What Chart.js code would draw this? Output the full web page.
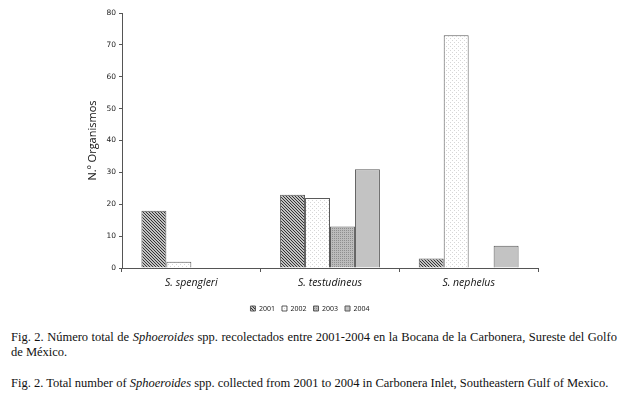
<!DOCTYPE html>
<html>
<head>
<meta charset="utf-8">
<script src="https://cdn.jsdelivr.net/npm/chart.js@4"></script>
<style>
  body { margin: 0; background: #fff; width: 627px; height: 398px; position: relative; overflow: hidden; }
  #chart { position: absolute; left: 0; top: 0; }
  .cap { position: absolute; left: 11px; width: 606px; font-family: "Liberation Serif", "Times New Roman", serif; font-size: 12.4px; line-height: 15px; color: #111; white-space: nowrap; }
  .just { text-align: justify; text-align-last: justify; }
</style>
</head>
<body>
<canvas id="chart" width="627" height="326"></canvas>
<div class="cap just" style="top:330px">Fig. 2. Número total de <i>Sphoeroides</i> spp. recolectados entre 2001-2004 en la Bocana de la Carbonera, Sureste del Golfo</div>
<div class="cap" style="top:345px">de México.</div>
<div class="cap" id="cap3" style="top:376px"><span id="cap3text">Fig. 2. Total number of <i>Sphoeroides</i> spp. collected from 2001 to 2004 in Carbonera Inlet, Southeastern Gulf of Mexico.</span></div>
<script>
// Species on the x axis
const species = ['S. spengleri', 'S. testudineus', 'S. nephelus'];
// Years (one series each)
const years = ['2001', '2002', '2003', '2004'];
// Number of organisms per year, in species order
const counts2001 = [18, 23, 3];
const counts2002 = [2, 22, 73];
const counts2003 = [0, 13, 0];
const counts2004 = [0, 31, 7];
const yTicks = [0, 10, 20, 30, 40, 50, 60, 70, 80];

// shrink the caption font so the english line is as wide as in the print (~597px)
const cap3 = document.getElementById('cap3text');
const natural = cap3.getBoundingClientRect().width;
const capSize = 12.4 * 597 / natural;
document.querySelectorAll('.cap').forEach(el => { el.style.fontSize = capSize + 'px'; });

// Fill patterns like the printed figure
function makePattern(size, draw) {
    const c = document.createElement('canvas');
    c.width = size;
    c.height = size;
    const g = c.getContext('2d');
    draw(g, size);
    return g.createPattern(c, 'repeat');
}

const ctx = document.getElementById('chart').getContext('2d');

const hatch = makePattern(3, (g, s) => {
    g.fillStyle = '#fff';
    g.fillRect(0, 0, s, s);
    g.strokeStyle = '#2a2a2a';
    g.lineWidth = 1.1;
    g.beginPath();
    g.moveTo(-1, -1); g.lineTo(s + 1, s + 1);
    g.moveTo(-1, s - 1); g.lineTo(1, s + 1);
    g.moveTo(s - 1, -1); g.lineTo(s + 1, 1);
    g.stroke();
});

const lightDots = makePattern(4, (g, s) => {
    g.fillStyle = '#fff';
    g.fillRect(0, 0, s, s);
    g.fillStyle = '#d6d6d6';
    g.fillRect(0, 0, 1, 1);
    g.fillRect(2, 2, 1, 1);
});

const greyDots = makePattern(2, (g, s) => {
    g.fillStyle = '#bcbcbc';
    g.fillRect(0, 0, s, s);
    g.fillStyle = '#8e8e8e';
    g.fillRect(0, 0, 1, 1);
});

const fills = [hatch, lightDots, greyDots, '#c3c3c3'];
const seriesData = [counts2001, counts2002, counts2003, counts2004];

const datasets = years.map((y, i) => ({
    label: y,
    data: seriesData[i],
    backgroundColor: fills[i],
    borderColor: '#5a5a5a',
    borderWidth: 1,
    barPercentage: 1.0,
    categoryPercentage: 0.72
}));

new Chart(ctx, {
    type: 'bar',
    data: { labels: species, datasets: datasets },
    options: {
        responsive: false,
        animation: false,
        layout: { padding: { left: 82, right: 89, top: 13, bottom: 4 } },
        plugins: {
            tooltip: { enabled: false },
            legend: {
                position: 'bottom',
                labels: {
                    boxWidth: 5,
                    boxHeight: 5,
                    padding: 7,
                    color: '#222',
                    font: { family: 'Noto Sans', size: 7 }
                }
            }
        },
        scales: {
            x: {
                grid: { offset: true, drawOnChartArea: false, tickLength: 4, color: '#555' },
                border: { color: '#555', width: 1 },
                ticks: {
                    color: '#111',
                    padding: 5,
                    font: { family: 'Open Sans', style: 'italic', size: 10.5 }
                },
                afterFit: (scale) => { scale.height = 30; }
            },
            y: {
                min: 0,
                max: 80,
                afterBuildTicks: (scale) => { scale.ticks = yTicks.map(v => ({ value: v })); },
                grid: { drawOnChartArea: false, tickLength: 3, color: '#555' },
                border: { color: '#555', width: 1 },
                ticks: {
                    color: '#222',
                    padding: 3,
                    font: { family: 'DejaVu Sans', size: 7.5 }
                },
                title: {
                    display: true,
                    text: 'N.º Organismos',
                    color: '#111',
                    font: { family: 'Open Sans', size: 11 }
                },
                afterFit: (scale) => { scale.width = 40; }
            }
        }
    }
});
</script>
</body>
</html>
